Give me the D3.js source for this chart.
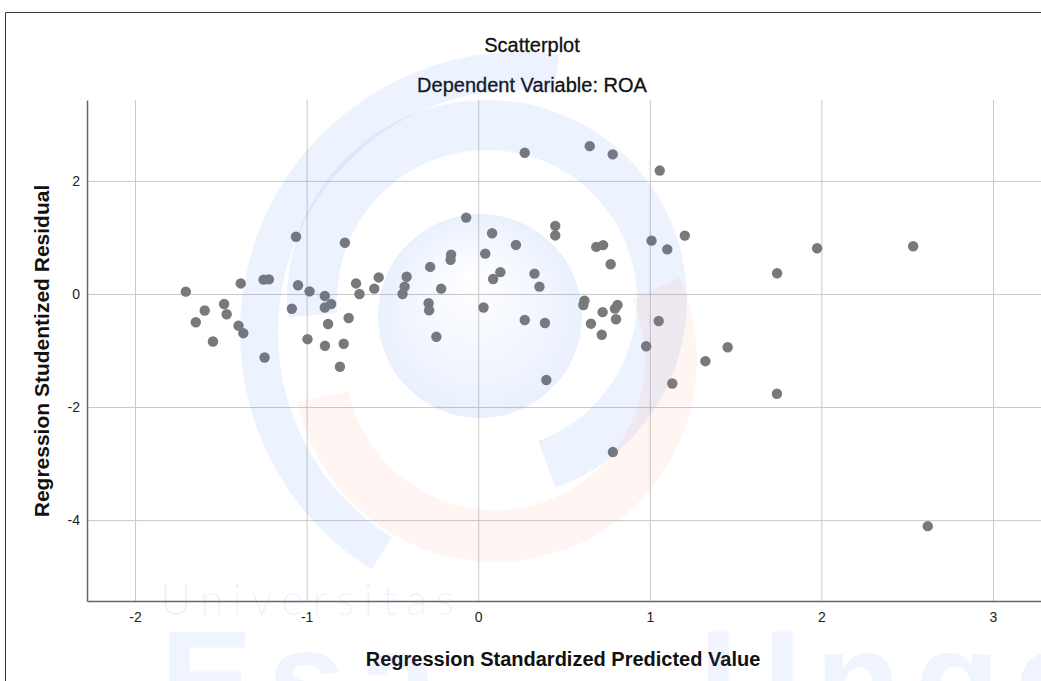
<!DOCTYPE html>
<html><head><meta charset="utf-8">
<script src="https://cdn.jsdelivr.net/npm/d3@7"></script>
<style>
body{margin:0;background:#fff;}
svg{display:block;font-family:"Liberation Sans",Arial,Helvetica,sans-serif;}
</style>
</head><body>
<svg id="chart" width="1041" height="681"></svg>
<script>
// ---- data ----
const predicted = [
 -1.704,-1.646,-1.594,-1.546,-1.481,-1.466,-1.384,-1.397,-1.369,-1.251,
 -1.220,-1.245,-1.062,-1.050,-1.086,-0.983,-0.995,-0.894,-0.857,-0.894,
 -0.875,-0.893,-0.784,-0.806,-0.777,-0.755,-0.712,-0.692,-0.606,-0.580,
 -0.417,-0.429,-0.441,-0.280,-0.158,-0.161,-0.216,-0.289,-0.286,-0.244,
 -0.070,0.041,0.081,0.087,0.129,0.031,0.220,0.271,0.271,0.328,
 0.357,0.389,0.397,0.449,0.449,0.650,0.784,0.688,0.728,0.772,
 0.619,0.613,0.725,0.657,0.720,0.812,0.797,0.803,1.058,1.010,
 1.102,1.204,1.052,0.979,1.131,1.324,1.454,1.742,1.741,1.975,
 2.535,0.785,2.620];
const residual = [
 0.041,-0.501,-0.292,-0.841,-0.177,-0.359,0.186,-0.561,-0.694,0.253,
 0.257,-1.124,1.012,0.154,-0.262,0.046,-0.800,-0.035,-0.177,-0.239,
 -0.531,-0.917,-0.880,-1.288,0.906,-0.425,0.186,0.000,0.094,0.292,
 0.304,0.129,0.000,0.478,0.696,0.605,0.094,-0.165,-0.288,-0.758,
 1.350,0.713,1.074,0.265,0.386,-0.239,0.867,2.496,-0.460,0.359,
 0.129,-0.513,-1.522,1.204,1.035,2.614,2.469,0.832,0.864,0.526,
 -0.119,-0.195,-0.322,-0.526,-0.722,-0.195,-0.260,-0.448,2.182,0.943,
 0.788,1.032,-0.478,-0.924,-1.584,-1.189,-0.943,0.366,-1.765,0.809,
 0.844,-2.796,-4.106];
const xTicks = [-2,-1,0,1,2,3];
const yTicks = [-4,-2,0,2];
const xDomain = [-2.28, 3.28];
const yDomain = [-5.43, 3.43];
const titleText = "Scatterplot";
const subtitleText = "Dependent Variable: ROA";
const xTitle = "Regression Standardized Predicted Value";
const yTitle = "Regression Studentized Residual";

// ---- layout ----
const svg = d3.select("#chart");
const L = 87, R = 1041, T = 100, B = 601;
const x = d3.scaleLinear().domain(xDomain).range([L, R]);
const y = d3.scaleLinear().domain(yDomain).range([B, T]);

// outer frame
svg.append("path").attr("d", "M5.5,681 V12.5 H1041")
  .attr("fill","none").attr("stroke","#3a3a3a").attr("stroke-width",1);

// titles
svg.append("text").attr("x",532).attr("y",52).attr("text-anchor","middle")
  .attr("font-size",20).attr("fill","#111").attr("stroke","#111").attr("stroke-width",0.3)
  .text(titleText);
svg.append("text").attr("x",532).attr("y",92).attr("text-anchor","middle")
  .attr("font-size",20).attr("fill","#111").attr("stroke","#111").attr("stroke-width",0.3)
  .text(subtitleText);

// grid
const gGrid = svg.append("g");
gGrid.append("g").attr("transform",`translate(0,${B})`)
  .call(d3.axisBottom(x).tickValues(xTicks).tickSize(-(B-T)).tickFormat(""))
  .call(g=>g.select(".domain").remove())
  .call(g=>g.selectAll("line").attr("stroke","#c9c9c9"));
gGrid.append("g").attr("transform",`translate(${L},0)`)
  .call(d3.axisLeft(y).tickValues(yTicks).tickSize(-(R-L)).tickFormat(""))
  .call(g=>g.select(".domain").remove())
  .call(g=>g.selectAll("line").attr("stroke","#c9c9c9"));

// axes
const xAxis = svg.append("g").attr("transform",`translate(0,${B})`)
  .call(d3.axisBottom(x).tickValues(xTicks).tickSize(0).tickPadding(11).tickFormat(d3.format("d")));
xAxis.select(".domain").attr("stroke","#666").attr("stroke-width",1.5);
xAxis.selectAll("text").attr("font-size",14).attr("fill","#222")
  .attr("font-family",'"Liberation Sans",Arial,sans-serif').text(d=>d<0?"-"+Math.abs(d):d);

const yAxis = svg.append("g").attr("transform",`translate(${L},0)`)
  .call(d3.axisLeft(y).tickValues(yTicks).tickSize(0).tickPadding(7).tickFormat(d3.format("d")));
yAxis.select(".domain").attr("stroke","#666").attr("stroke-width",1.5);
yAxis.selectAll("text").attr("font-size",14).attr("fill","#222")
  .attr("font-family",'"Liberation Sans",Arial,sans-serif').text(d=>d<0?"-"+Math.abs(d):d);

// axis titles
svg.append("text").attr("x",563).attr("y",666).attr("text-anchor","middle")
  .attr("font-size",20).attr("font-weight","bold").attr("fill","#111").text(xTitle);
svg.append("text").attr("transform","translate(49,351) rotate(-90)").attr("text-anchor","middle")
  .attr("font-size",21).attr("font-weight","bold").attr("fill","#111").text(yTitle);

// points
const pts = predicted.map((p,i)=>({p, r: residual[i]}));
svg.append("g").selectAll("circle").data(pts).join("circle")
  .attr("cx",d=>x(d.p)).attr("cy",d=>y(d.r)).attr("r",5.2)
  .attr("fill","#797979");

// ---- faint watermark overlay ----
const wm = svg.append("g").attr("pointer-events","none");
const defs = svg.append("defs");
const rg = defs.append("radialGradient").attr("id","disc").attr("fx","0.45").attr("fy","0.3").attr("cx","0.5").attr("cy","0.5").attr("r","0.5");
rg.append("stop").attr("offset","0%").attr("stop-color","rgb(60,120,240)").attr("stop-opacity",0);
rg.append("stop").attr("offset","100%").attr("stop-color","rgb(60,120,240)").attr("stop-opacity",0.11);
const blue = "rgba(60,120,240,0.09)";
const red = "rgba(250,110,70,0.07)";
const deg = Math.PI/180;
const arc = d3.arc();
wm.append("circle").attr("cx",480).attr("cy",316).attr("r",102).attr("fill","url(#disc)");
wm.append("path").attr("transform","translate(487,300)")
  .attr("d",arc({innerRadius:150,outerRadius:200,startAngle:-95*deg,endAngle:160*deg})).attr("fill",blue);
wm.append("path").attr("transform","translate(520,332)")
  .attr("d",arc({innerRadius:242,outerRadius:280,startAngle:-148*deg,endAngle:8*deg})).attr("fill",blue);
wm.append("path").attr("transform","translate(495,360)")
  .attr("d",arc({innerRadius:150,outerRadius:202,startAngle:66*deg,endAngle:258*deg})).attr("fill",red);
wm.append("text").attr("x",160).attr("y",615).attr("font-size",43)
  .attr("font-family","Lato, 'Open Sans', sans-serif").attr("font-weight",300)
  .attr("letter-spacing",9).attr("fill",blue).text("Universitas");
wm.append("text").attr("x",160).attr("y",728).attr("font-size",140)
  .attr("font-weight","bold").attr("letter-spacing",14).attr("fill","rgba(60,120,240,0.08)").text("Esa");
wm.append("text").attr("x",700).attr("y",728).attr("font-size",140)
  .attr("font-weight","bold").attr("letter-spacing",14).attr("fill","rgba(60,120,240,0.08)").text("Unggul");
</script>
</body></html>
